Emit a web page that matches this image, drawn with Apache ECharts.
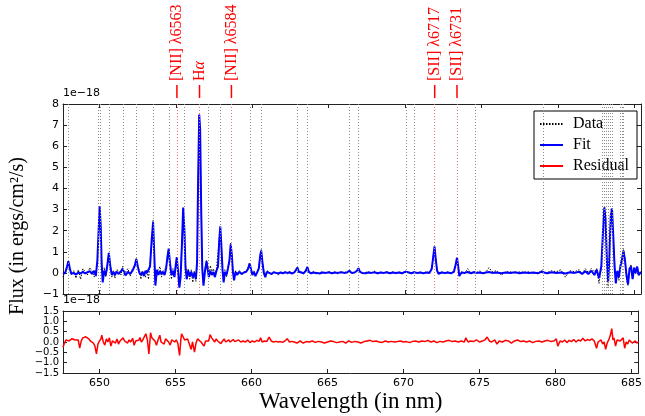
<!DOCTYPE html>
<html><head><meta charset="utf-8">
<script src="https://cdn.jsdelivr.net/npm/echarts@6/dist/echarts.min.js"></script>
<style>html,body{margin:0;padding:0;background:#fff}#c{width:645px;height:416px}</style>
</head><body><div id="c"></div>
<script>
// ---- axis ranges / ticks ----
const xMin = 647.6, xMax = 685.45;
const xTicks = [650, 655, 660, 665, 670, 675, 680, 685];
const fluxTicks = [-1, 0, 1, 2, 3, 4, 5, 6, 7, 8];
const resTicks = [-1.5, -1.0, -0.5, 0.0, 0.5, 1.0, 1.5];

// ---- emission line markers ----
const lineWl = [655.06, 656.54, 658.63, 671.94, 673.40];
const lineLabels = ['[NII] λ6563', 'Hα', '[NII] λ6584', '[SII] λ6717', '[SII] λ6731'];
const otherLineWl = [647.97, 649.93, 650.05, 650.65, 651.57, 652.40, 653.49, 654.58, 655.54, 657.08,
  657.89, 659.85, 660.57, 662.94, 663.59, 666.34, 666.95, 670.09, 670.63, 674.62,
  679.02, 682.92, 683.05, 683.18, 683.31, 683.44, 683.58, 684.07, 684.19, 684.29];

// ---- spectrum (wavelength in nm, flux in 1e-18 ergs/cm2/s) ----
const specWl = [
  647.6,647.75,647.85,647.95,648.05,648.15,648.3,648.45,648.6,648.75,
  648.9,649.05,649.2,649.35,649.5,649.65,649.75,649.85,649.95,650.0,
  650.07,650.13,650.2,650.3,650.4,650.5,650.6,650.7,650.8,650.9,
  651.0,651.1,651.25,651.4,651.5,651.6,651.7,651.85,652.0,652.15,
  652.3,652.4,652.5,652.6,652.7,652.8,652.9,653.0,653.1,653.2,
  653.3,653.4,653.5,653.58,653.65,653.75,653.85,653.95,654.05,654.15,
  654.25,654.35,654.45,654.52,654.6,654.7,654.8,654.9,654.97,655.05,
  655.12,655.22,655.3,655.38,655.47,655.55,655.62,655.7,655.8,655.9,
  656.0,656.1,656.2,656.3,656.38,656.45,656.52,656.58,656.65,656.72,
  656.8,656.9,657.0,657.08,657.15,657.25,657.35,657.45,657.55,657.65,
  657.75,657.83,657.9,657.97,658.05,658.12,658.2,658.3,658.4,658.5,
  658.58,658.65,658.72,658.8,658.9,659.0,659.15,659.3,659.45,659.6,
  659.72,659.82,659.92,660.0,660.1,660.2,660.3,660.42,660.52,660.58,
  660.66,660.75,660.85,660.95,661.1,661.25,661.4,661.55,661.7,661.85,
  662.0,662.15,662.3,662.45,662.6,662.75,662.87,662.95,663.05,663.2,
  663.35,663.5,663.6,663.7,663.85,664.0,664.2,664.4,664.6,664.8,
  665.0,665.2,665.4,665.6,665.8,666.0,666.2,666.35,666.5,666.7,
  666.85,666.95,667.05,667.2,667.4,667.6,667.8,668.0,668.2,668.4,
  668.6,668.8,669.0,669.2,669.4,669.6,669.8,670.0,670.1,670.2,
  670.4,670.6,670.8,671.0,671.2,671.4,671.6,671.75,671.85,671.93,
  672.0,672.1,672.2,672.4,672.6,672.8,673.0,673.2,673.3,673.4,
  673.48,673.55,673.7,673.9,674.1,674.3,674.5,674.7,674.9,675.1,
  675.3,675.5,675.7,676.0,676.3,676.6,676.9,677.2,677.5,677.8,
  678.1,678.4,678.7,678.9,679.0,679.1,679.3,679.6,679.9,680.2,
  680.5,680.8,681.1,681.4,681.6,681.8,682.0,682.2,682.4,682.55,
  682.7,682.85,682.95,683.05,683.13,683.22,683.3,683.38,683.47,683.55,
  683.63,683.72,683.8,683.9,684.0,684.1,684.2,684.3,684.4,684.5,
  684.6,684.7,684.8,684.9,685.0,685.1,685.2,685.3,685.45
];
const fitFlux = [
  -0.05,0.02,0.25,0.55,0.2,-0.05,0.0,-0.08,0.02,-0.03,
  0.05,-0.02,0.03,0.08,-0.05,0.1,-0.15,0.6,2.3,3.15,
  2.2,0.5,-0.45,0.1,-0.1,0.35,0.95,0.3,-0.1,0.05,
  -0.1,0.05,-0.05,0.08,0.2,0.05,-0.12,0.05,-0.05,0.1,
  0.35,0.65,0.3,0.0,-0.1,0.05,-0.15,0.1,0.0,-0.05,
  0.3,1.5,2.4,0.8,-0.6,0.15,-0.1,0.1,-0.05,0.05,
  -0.1,0.2,0.8,1.15,0.5,-0.1,0.1,-0.2,0.3,0.75,
  0.2,-0.7,-0.2,1.2,3.1,2.0,0.3,-0.3,0.1,-0.15,
  0.05,-0.2,0.0,-0.3,0.5,4.5,7.5,6.8,3.0,0.2,
  -0.6,0.1,0.55,0.15,-0.2,0.1,-0.1,0.05,-0.2,0.1,
  0.3,1.5,2.2,1.3,0.1,-0.45,0.05,-0.1,0.2,0.6,
  1.35,0.9,0.1,-0.35,0.05,-0.1,0.05,-0.05,0.02,0.05,
  0.2,0.45,0.15,-0.1,0.05,-0.15,0.0,0.2,0.85,1.05,
  0.5,0.0,-0.2,0.05,0.0,-0.05,0.03,0.0,-0.03,0.02,
  -0.02,0.03,0.0,0.02,-0.03,0.02,0.1,0.25,0.05,0.02,
  -0.02,0.1,0.28,0.05,-0.02,0.02,0.0,-0.03,0.02,0.0,
  0.03,-0.02,0.02,0.0,0.03,0.0,0.02,0.1,0.0,0.02,
  0.1,0.22,0.05,0.0,-0.02,0.02,0.0,0.03,-0.02,0.02,
  0.0,0.03,-0.02,0.02,0.0,0.02,-0.02,0.05,0.12,0.03,
  -0.02,0.03,0.0,0.02,-0.02,0.02,0.0,0.2,0.8,1.25,
  0.7,0.1,-0.05,0.02,0.0,0.02,-0.02,0.05,0.35,0.72,
  0.3,-0.15,0.02,0.0,0.04,-0.02,0.03,0.0,0.02,-0.02,
  0.02,0.04,0.0,0.02,-0.02,0.02,0.0,0.03,-0.02,0.02,
  0.0,0.02,-0.02,0.05,0.12,0.02,-0.02,0.03,0.0,0.02,
  -0.03,0.03,0.0,0.05,-0.05,0.08,-0.05,0.1,-0.1,0.15,
  -0.25,0.3,1.8,3.1,2.5,0.5,-0.4,0.8,2.7,3.05,
  1.8,0.3,-0.5,0.1,-0.2,0.3,0.6,1.05,0.6,-0.1,
  -0.55,0.2,0.3,-0.3,0.25,0.0,0.3,-0.1,0.05
];
const dataFlux = [
  -0.2,0.05,0.3,0.5,0.25,-0.1,0.1,-0.25,0.15,-0.3,
  0.2,0.05,-0.1,0.25,0.1,-0.2,0.05,0.4,2.2,3.1,
  2.3,0.3,-0.3,0.25,-0.2,0.3,0.9,0.45,-0.2,0.1,
  -0.25,0.15,0.1,-0.1,0.3,-0.1,0.05,0.2,-0.15,0.2,
  0.3,0.7,0.25,0.15,-0.3,0.1,0.05,-0.2,0.15,-0.3,
  0.5,1.3,2.5,0.7,-0.5,0.05,0.1,0.3,-0.2,0.1,
  0.05,0.25,0.9,1.1,0.45,-0.3,0.2,-0.1,0.2,0.7,
  0.1,-0.5,-0.05,1.3,3.0,2.2,0.4,-0.2,0.2,-0.3,
  0.15,-0.45,0.1,-0.4,0.3,4.3,7.4,6.9,2.9,0.3,
  -0.5,0.2,0.6,0.3,-0.1,0.35,0.0,0.2,-0.1,0.2,
  0.25,1.6,2.1,1.3,0.0,-0.35,0.15,-0.2,0.25,0.5,
  1.4,0.8,0.2,-0.25,0.1,0.0,0.1,-0.1,0.05,0.1,
  0.25,0.4,0.2,-0.05,0.1,-0.1,0.05,0.25,0.8,1.1,
  0.55,0.1,-0.15,0.1,0.05,-0.1,0.05,0.0,-0.1,0.05,
  0.0,0.05,-0.05,0.1,-0.05,0.05,0.1,0.25,0.0,0.05,
  -0.05,0.15,0.25,0.0,0.02,0.05,-0.05,0.02,0.05,-0.03,
  0.05,0.0,0.05,-0.05,0.05,0.02,0.05,0.1,-0.03,0.05,
  0.1,0.2,0.05,-0.05,0.02,0.05,0.0,0.08,-0.05,0.05,
  -0.03,0.05,0.0,0.05,-0.05,0.05,0.0,0.08,0.1,0.02,
  0.0,0.05,-0.03,0.05,0.0,0.05,0.02,0.25,0.8,1.2,
  0.75,0.1,0.0,0.05,-0.03,0.05,0.0,0.08,0.35,0.7,
  0.35,-0.1,0.05,-0.03,0.2,0.0,0.05,0.02,0.1,-0.03,
  0.05,0.25,0.05,0.1,-0.1,0.05,0.05,0.0,0.05,0.03,
  0.05,-0.02,0.03,0.05,0.15,0.0,0.02,0.1,0.05,0.15,
  -0.2,0.1,0.05,0.15,-0.05,0.2,0.02,0.2,0.05,0.2,
  -0.5,0.25,1.7,3.1,2.5,0.5,-0.7,0.9,2.8,3.0,
  1.8,0.5,-0.4,0.1,-0.35,0.4,0.7,1.1,0.7,-0.3,
  -0.6,0.15,0.4,-0.3,0.2,-0.05,0.3,-0.15,0.05
];

// ---- residual ----
const resWl = [
  647.6,647.7,647.8,647.9,648.0,648.1,648.2,648.3,648.4,648.5,
  648.6,648.7,648.8,648.9,649.0,649.1,649.2,649.3,649.4,649.5,
  649.6,649.7,649.8,649.9,650.0,650.1,650.15,650.25,650.35,650.45,
  650.55,650.65,650.75,650.85,650.95,651.05,651.15,651.25,651.35,651.45,
  651.55,651.65,651.75,651.85,651.95,652.05,652.18,652.28,652.38,652.5,
  652.6,652.66,652.75,652.85,652.95,653.05,653.15,653.25,653.36,653.45,
  653.55,653.65,653.75,653.85,653.97,654.05,654.15,654.25,654.35,654.45,
  654.55,654.65,654.75,654.85,654.95,655.05,655.15,655.27,655.35,655.4,
  655.5,655.6,655.7,655.8,655.9,656.03,656.12,656.25,656.35,656.45,
  656.58,656.68,656.78,656.88,656.98,657.08,657.18,657.28,657.38,657.48,
  657.58,657.68,657.78,657.88,657.98,658.1,658.2,658.3,658.4,658.5,
  658.6,658.7,658.8,658.9,659.0,659.15,659.3,659.45,659.6,659.75,
  659.9,660.05,660.2,660.35,660.5,660.6,660.7,660.85,661.0,661.16,
  661.3,661.45,661.6,661.75,661.9,662.05,662.2,662.35,662.5,662.65,
  662.8,663.0,663.2,663.4,663.6,663.8,664.0,664.2,664.4,664.6,
  664.8,665.0,665.2,665.4,665.6,665.8,666.0,666.2,666.4,666.6,
  666.8,667.0,667.2,667.4,667.6,667.8,668.0,668.2,668.4,668.6,
  668.8,669.0,669.2,669.4,669.6,669.8,670.0,670.2,670.4,670.6,
  670.8,671.0,671.2,671.4,671.6,671.8,672.0,672.2,672.4,672.6,
  672.8,673.0,673.2,673.4,673.6,673.8,674.0,674.1,674.25,674.4,
  674.6,674.8,675.0,675.2,675.35,675.5,675.65,675.8,676.0,676.15,
  676.3,676.5,676.7,676.9,677.1,677.3,677.5,677.7,677.9,678.1,
  678.3,678.5,678.7,678.9,679.1,679.3,679.5,679.7,679.9,680.05,
  680.15,680.3,680.45,680.6,680.75,680.9,681.05,681.2,681.35,681.5,
  681.65,681.8,681.95,682.1,682.25,682.4,682.55,682.7,682.8,682.9,
  683.0,683.1,683.2,683.3,683.4,683.5,683.6,683.7,683.78,683.85,
  683.95,684.05,684.15,684.25,684.35,684.45,684.55,684.65,684.75,684.85,
  684.95,685.05,685.15,685.25,685.35,685.45
];
const resFlux = [
  -0.25,-0.05,0.1,0.13,0.05,0.12,0.16,0.08,0.1,0.02,
  0.1,-0.3,0.05,0.2,0.12,0.25,0.2,0.15,0.05,0.1,
  -0.05,-0.2,-0.57,-0.1,0.05,0.15,0.33,0.0,-0.15,0.15,
  0.0,0.2,-0.2,0.05,0.1,-0.05,0.15,-0.1,0.05,0.0,
  0.2,0.05,0.1,-0.05,0.1,0.0,0.18,-0.16,0.05,0.0,
  0.1,0.22,0.0,0.1,0.05,0.4,0.1,-0.58,0.45,0.2,
  0.25,0.05,-0.16,0.1,0.33,0.0,0.05,-0.1,0.15,0.24,
  0.0,-0.15,0.1,0.05,0.0,0.1,-0.05,-0.65,0.1,0.4,
  0.45,0.1,0.05,0.15,0.1,-0.36,0.0,-0.49,-0.05,0.15,
  0.16,0.0,0.05,-0.2,0.05,0.1,0.05,0.36,0.2,0.25,
  0.0,0.15,0.05,0.1,-0.08,0.05,0.15,0.0,0.05,0.1,
  0.0,0.08,0.12,0.02,0.05,0.1,0.0,0.05,0.0,0.1,
  -0.03,0.05,0.0,0.08,0.03,0.2,0.0,0.05,0.02,0.24,
  0.05,0.0,0.03,0.0,0.02,-0.02,0.05,0.16,0.0,0.03,
  0.0,-0.05,0.05,-0.05,0.02,0.0,0.05,-0.02,0.03,0.0,
  -0.05,0.0,0.05,0.02,-0.03,0.0,0.03,-0.05,0.05,-0.02,
  0.03,0.0,-0.05,0.02,0.05,0.08,0.02,0.05,0.0,-0.02,
  0.05,0.0,0.03,0.0,0.02,0.05,0.0,0.02,-0.03,0.03,
  0.05,0.0,0.05,0.02,0.08,0.0,0.05,-0.03,0.03,0.0,
  0.05,0.08,0.02,0.05,0.0,0.05,0.0,0.2,0.0,0.05,
  0.02,0.1,0.0,0.05,0.1,0.24,0.05,0.0,0.1,-0.1,
  0.05,0.0,0.08,0.05,-0.05,0.05,0.1,0.02,0.05,0.0,
  0.05,-0.03,0.03,0.05,0.0,0.05,0.08,0.02,0.05,0.15,
  -0.2,0.05,0.0,0.1,-0.03,0.08,0.02,0.12,0.0,0.1,
  0.05,0.18,0.05,0.12,0.08,0.15,0.05,-0.3,0.0,-0.05,
  0.1,-0.1,0.0,-0.36,-0.05,0.1,0.3,0.65,0.1,0.2,
  -0.2,0.1,0.15,0.05,0.12,0.2,-0.3,0.0,-0.1,0.1,
  0.05,-0.05,0.0,0.05,-0.05,0.0
];

const pair = (xs, ys) => xs.map((x, i) => [x, ys[i]]);
const minus = s => String(s).replace('-', '\u2212');
const AX = '#222';
const tickFont = {fontFamily: 'DejaVu Sans', fontSize: 11, color: '#000'};
const serif = '"Liberation Serif", "DejaVu Serif", serif';

function xAx(grid, pos, labels, extra) {
  return Object.assign({
    gridIndex: grid, type: 'value', min: xMin, max: xMax, position: pos,
    axisLine: {show: true, onZero: false, lineStyle: {color: AX, width: 1}},
    axisTick: {show: true, inside: true, length: 4, customValues: xTicks, lineStyle: {color: AX}},
    axisLabel: Object.assign({show: labels, customValues: xTicks, margin: 5}, tickFont),
    splitLine: {show: false}
  }, extra || {});
}
function yAx(grid, pos, ticks, labels, fmt, fontSize, extra) {
  return Object.assign({
    gridIndex: grid, type: 'value', min: ticks[0], max: ticks[ticks.length - 1], position: pos,
    axisLine: {show: true, onZero: false, lineStyle: {color: AX, width: 1}},
    axisTick: {show: true, inside: true, length: 4, customValues: ticks, lineStyle: {color: AX}},
    axisLabel: Object.assign({}, tickFont, {show: labels, margin: 4, formatter: fmt, customValues: ticks,
      interval: 0, fontSize: fontSize, lineHeight: fontSize, showMinLabel: true, showMaxLabel: true, hideOverlap: false}),
    splitLine: {show: false}
  }, extra || {});
}

const chart = echarts.init(document.getElementById('c'), null, {renderer: 'canvas'});
const option = {
  animation: false,
  backgroundColor: '#fff',
  grid: [
    {left: 63, right: 4, top: 104, height: 190},
    {left: 63, right: 4, top: 311, height: 62}
  ],
  xAxis: [
    xAx(0, 'bottom', false),
    xAx(0, 'top', false),
    xAx(1, 'bottom', true, {name: 'Wavelength (in nm)', nameLocation: 'middle', nameGap: 17,
      nameTextStyle: {fontFamily: serif, fontSize: 23, color: '#000'}}),
    xAx(1, 'top', false)
  ],
  yAxis: [
    yAx(0, 'left', fluxTicks, true, v => minus(v), 11, {name: '1e\u221218', nameLocation: 'end', nameGap: 2,
      nameTextStyle: {fontFamily: 'DejaVu Sans', fontSize: 11, color: '#000', align: 'left', verticalAlign: 'bottom'}}),
    yAx(0, 'right', fluxTicks, false, null, 11),
    yAx(1, 'left', resTicks, true, v => minus(v.toFixed(1)), 10, {name: '1e\u221218', nameLocation: 'end', nameGap: 2,
      nameTextStyle: {fontFamily: 'DejaVu Sans', fontSize: 11, color: '#000', align: 'left', verticalAlign: 'bottom'}}),
    yAx(1, 'right', resTicks, false, null, 11)
  ],
  legend: {
    data: ['Data', 'Fit', 'Residual'], orient: 'vertical', right: 8, top: 111,
    backgroundColor: '#fff', borderColor: '#000', borderWidth: 1, borderRadius: 0,
    padding: [3, 8, 3, 5], itemGap: 1, itemWidth: 23, itemHeight: 14,
    itemStyle: {opacity: 0, borderWidth: 0},
    textStyle: {fontFamily: serif, fontSize: 16, color: '#000', lineHeight: 20, padding: [0, 0, 0, 5]}
  },
  series: [
    {name: 'lines', type: 'line', xAxisIndex: 0, yAxisIndex: 0, data: [], silent: true,
      markLine: {silent: true, symbol: 'none', label: {show: false}, animation: false,
        lineStyle: {type: [1, 2], color: '#8c8c8c', width: 1},
        data: otherLineWl.map(v => ({xAxis: v}))}},
    {name: 'elines', type: 'line', xAxisIndex: 0, yAxisIndex: 0, data: [], silent: true,
      markLine: {silent: true, symbol: 'none', label: {show: false}, animation: false,
        lineStyle: {type: [1, 2], color: '#f07070', width: 1},
        data: lineWl.map(v => ({xAxis: v}))}},
    {name: 'Data', type: 'line', xAxisIndex: 0, yAxisIndex: 0, data: pair(specWl, dataFlux),
      symbol: 'none', lineStyle: {color: '#000', width: 1, type: [1.5, 1.5]}, itemStyle: {color: '#000'}},
    {name: 'Fit', type: 'line', xAxisIndex: 0, yAxisIndex: 0, data: pair(specWl, fitFlux),
      symbol: 'none', lineStyle: {color: '#0000ff', width: 2}, itemStyle: {color: '#0000ff'}},
    {name: 'Residual', type: 'line', xAxisIndex: 2, yAxisIndex: 2, data: pair(resWl, resFlux),
      symbol: 'none', lineStyle: {color: '#ff0000', width: 1.5}, itemStyle: {color: '#ff0000'}}
  ]
};
chart.setOption(option);

// labels for the emission lines and the y-axis title
const g = [];
lineWl.forEach((wl, i) => {
  const x = chart.convertToPixel({xAxisIndex: 0}, wl);
  g.push({type: 'line', shape: {x1: x, y1: 85, x2: x, y2: 98}, style: {stroke: '#ff0000', lineWidth: 1.5}, silent: true});
  const txt = lineLabels[i] === 'Hα' ? '{n|H}{a|α}' : lineLabels[i];
  g.push({type: 'text', x: x, y: 81, rotation: Math.PI / 2, silent: true,
    style: {text: txt, fontFamily: serif, fontSize: 16, fill: '#ff0000', align: 'left', verticalAlign: 'middle',
      rich: {n: {fontFamily: serif, fontSize: 16, fill: '#ff0000'}, a: {fontFamily: serif, fontSize: 16, fontStyle: 'italic', fill: '#ff0000'}}}});
});
g.push({type: 'text', x: 18, y: 236, rotation: Math.PI / 2, silent: true,
  style: {text: 'Flux (in ergs/cm\u00b2/s)', fontFamily: serif, fontSize: 20, fill: '#000', align: 'center', verticalAlign: 'middle'}});
chart.setOption({graphic: g});
</script>
</body></html>
